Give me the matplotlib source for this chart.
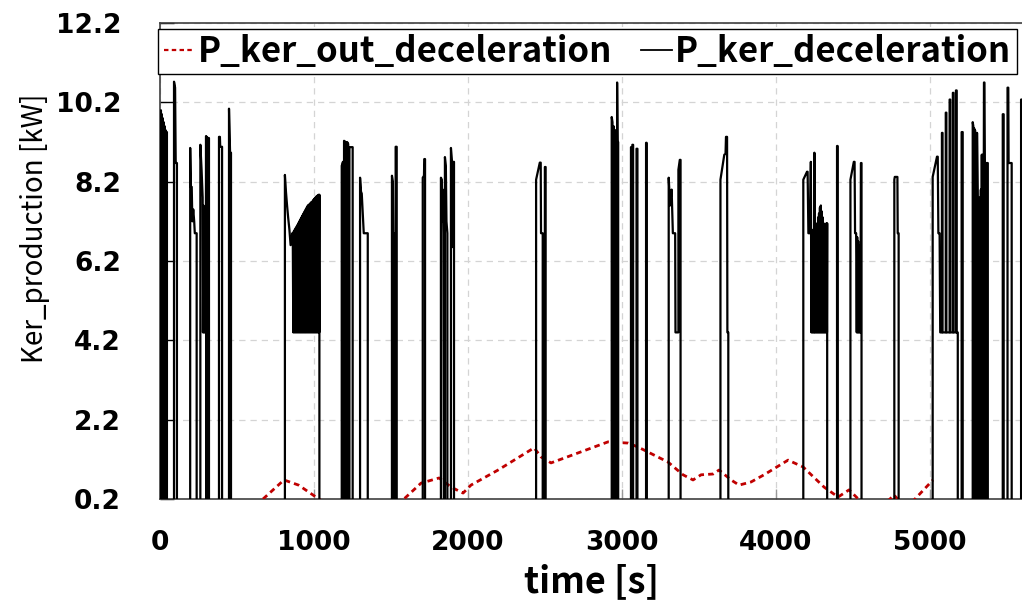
import numpy as np
import matplotlib
matplotlib.use("Agg")
import matplotlib.pyplot as plt
from matplotlib.lines import Line2D

# ---- P_ker_deceleration pulses, (time [s], power [kW]) ----
ker_a = [(6, 0), (6, 10.0), (9, 0), (12, 9.9), (15, 0), (18, 9.8), (21, 0), (24, 9.7),
         (27, 0), (30, 9.6), (33, 0), (36, 9.5), (39, 0), (42, 9.45), (45, 9.45), (45, 0),
         (91, 0), (91, 10.72), (98, 10.57), (102, 8.67), (110, 8.67), (110, 0)]
ker_b = [(196, 0), (196, 9.05), (200, 8.07), (206, 8.07), (210, 7.2), (216, 7.5),
         (222, 7.2), (226, 6.9), (238, 6.9), (238, 0)]
ker_c = [(262, 0), (262, 9.13), (270, 8.5), (277, 7.8), (279, 4.4), (282, 7.6), (285, 4.4),
         (288, 7.5), (291, 4.4), (294, 7.4), (297, 4.4), (299, 9.35), (302, 0), (305, 9.33),
         (308, 0), (311, 9.3), (318, 9.3), (318, 0)]
ker_d = [(383, 0), (383, 9.33), (389, 9.33), (391, 9.08), (403, 9.08), (403, 0),
         (448, 0), (448, 10.04), (455, 8.93), (461, 8.93), (461, 0)]
ker_f_head = [(811, 0), (811, 8.37), (818, 7.94), (825, 7.6), (832, 7.3), (840, 7.0),
              (848, 6.6), (855, 6.8), (859, 6.9)]
ker_f_peak_t = [862, 869, 876, 883, 890, 897, 904, 911, 918, 925, 932, 939, 946,
                953, 960, 967, 974, 981, 988, 995, 1002, 1009, 1016, 1023, 1030]
ker_f_peak_v = [6.9, 6.95, 7.0, 7.05, 7.1, 7.15, 7.2, 7.25, 7.3, 7.35, 7.4, 7.45, 7.5,
                7.55, 7.6, 7.62, 7.65, 7.68, 7.7, 7.74, 7.77, 7.8, 7.83, 7.85, 7.87]
ker_f_tail = [(1035, 7.87), (1035, 0)]
ker_g = [(1180, 0), (1180, 8.6), (1188, 8.7), (1190, 0), (1195, 0), (1195, 9.23),
         (1205, 9.2), (1208, 0), (1215, 0), (1215, 9.2), (1222, 9.15), (1225, 0),
         (1230, 0), (1230, 9.07), (1251, 9.07), (1251, 0),
         (1299, 0), (1299, 8.3), (1305, 7.95), (1310, 7.9), (1318, 7.3), (1323, 6.9),
         (1349, 6.9), (1349, 0)]
ker_i = [(1506, 0), (1506, 8.35), (1512, 8.2), (1514, 6.9), (1518, 6.9), (1518, 0),
         (1530, 0), (1530, 9.08), (1537, 9.08), (1537, 0),
         (1706, 0), (1706, 8.3), (1714, 8.35), (1716, 8.77), (1721, 8.77), (1721, 0)]
ker_k = [(1824, 0), (1824, 8.3), (1830, 8.25), (1833, 7.2), (1836, 8.0), (1840, 6.9),
         (1843, 0), (1850, 0), (1850, 8.82), (1856, 8.6), (1860, 7.2), (1866, 6.9),
         (1866, 0), (1889, 0), (1889, 9.05), (1895, 8.75), (1898, 6.55), (1905, 8.7),
         (1909, 8.7), (1909, 0)]
ker_l = [(2442, 0), (2442, 8.25), (2466, 8.68), (2472, 8.68), (2474, 6.9), (2485, 6.9),
         (2485, 0), (2499, 0), (2499, 8.57), (2504, 8.57), (2504, 0)]
ker_m = [(2933, 0), (2933, 9.83), (2938, 9.7), (2940, 0), (2945, 0), (2945, 9.6),
         (2950, 0), (2955, 0), (2955, 9.5), (2960, 0), (2968, 0), (2968, 10.7),
         (2971, 9.2), (2975, 9.2), (2975, 0),
         (3058, 0), (3058, 9.07), (3064, 9.07), (3064, 0), (3067, 0), (3067, 9.13),
         (3072, 9.13), (3072, 0), (3094, 0), (3094, 9.03), (3100, 9.03), (3100, 0),
         (3156, 0), (3156, 9.18), (3160, 9.18), (3160, 0)]
ker_o = [(3303, 0), (3303, 8.3), (3312, 7.6), (3322, 8.0), (3330, 6.9), (3345, 6.9),
         (3347, 4.4), (3366, 4.4), (3366, 8.5), (3375, 8.75), (3380, 8.75), (3380, 0),
         (3639, 0), (3639, 8.25), (3664, 8.88), (3672, 8.9), (3675, 9.33), (3682, 9.33),
         (3684, 4.4), (3690, 4.4), (3690, 0)]
ker_q_head = [(4177, 0), (4177, 8.25), (4195, 8.4), (4201, 8.45), (4205, 8.45),
              (4210, 6.9), (4220, 6.9)]
ker_q_peak_t = [4226, 4232, 4238, 4244, 4249, 4255, 4261, 4267, 4273, 4279, 4285,
                4291, 4297, 4303, 4309, 4315, 4321, 4327]
ker_q_peak_v = [8.7, 6.9, 6.9, 7.0, 8.93, 6.95, 7.05, 7.15, 7.3, 7.4, 7.55,
                7.6, 7.45, 7.3, 7.15, 7.1, 7.05, 7.15]
ker_q_tail = [(4332, 7.15), (4332, 0), (4396, 0), (4396, 9.1), (4400, 9.1), (4400, 0)]
ker_r = [(4483, 0), (4483, 8.25), (4505, 8.7), (4510, 8.7), (4513, 6.9), (4520, 6.9),
         (4524, 4.4), (4527, 6.8), (4530, 4.4), (4533, 6.7), (4536, 4.4), (4539, 6.6),
         (4542, 4.4), (4545, 6.5), (4548, 4.4), (4551, 8.67), (4555, 8.67), (4555, 0),
         (4768, 0), (4768, 8.25), (4771, 8.32), (4788, 8.32), (4790, 6.9), (4796, 6.9),
         (4796, 0)]
ker_t = [(5017, 0), (5017, 8.32), (5045, 8.83), (5050, 8.83), (5054, 6.9), (5062, 6.9),
         (5066, 4.4), (5077, 4.4), (5077, 9.43), (5081, 9.43), (5081, 4.4), (5102, 4.4),
         (5102, 9.94), (5106, 9.94), (5106, 4.4), (5127, 4.4), (5127, 10.27),
         (5131, 10.27), (5131, 4.4), (5148, 4.4), (5148, 10.44), (5152, 10.44),
         (5152, 4.4), (5168, 4.4), (5168, 10.5), (5173, 10.5), (5173, 4.4), (5180, 4.4),
         (5180, 0), (5205, 0), (5205, 9.45), (5212, 9.45), (5212, 0)]
ker_u = [(5277, 0), (5277, 9.7), (5281, 9.6), (5283, 0), (5286, 9.55), (5289, 0),
         (5292, 9.5), (5295, 0), (5298, 9.43), (5301, 0), (5305, 9.43), (5310, 7.8),
         (5313, 0), (5316, 7.66), (5319, 0), (5322, 7.8), (5325, 0), (5330, 8.0),
         (5333, 0), (5336, 8.88), (5339, 0), (5342, 8.88), (5345, 0), (5350, 10.7),
         (5353, 10.7), (5356, 8.67), (5359, 4.4), (5362, 0), (5365, 8.67), (5375, 8.67),
         (5375, 0)]
ker_v = [(5472, 0), (5472, 9.9), (5478, 9.9), (5478, 0), (5503, 0), (5503, 10.57),
         (5508, 10.57), (5510, 8.67), (5530, 8.67), (5530, 0),
         (5591, 0), (5591, 10.27), (5620, 10.27)]
block_floor = 4.4

# ---- P_ker_out_deceleration ----
out_t = [669, 805, 900, 1050, 1500, 1584, 1695, 1812, 1890, 1968, 2019, 2195, 2429,
         2474, 2539, 2909, 3039, 3104, 3299, 3396, 3461, 3513, 3591, 3630, 3708, 3760,
         3838, 3922, 4078, 4175, 4312, 4403, 4474, 4560, 4700, 4766, 4800, 4890, 5019]
out_p = [0.2, 0.68, 0.55, 0.15, 0.1, 0.2, 0.6, 0.73, 0.5, 0.35, 0.55, 0.93, 1.49,
         1.26, 1.11, 1.64, 1.61, 1.51, 1.13, 0.81, 0.68, 0.81, 0.83, 0.93, 0.68, 0.55,
         0.63, 0.81, 1.18, 1.01, 0.5, 0.25, 0.43, 0.1, 0.05, 0.3, 0.15, 0.15, 0.68]

x_ticks = [0, 1000, 2000, 3000, 4000, 5000]
y_ticks = [0.2, 2.2, 4.2, 6.2, 8.2, 10.2, 12.2]


def dense_block(peak_t, peak_v, floor):
    """Oscillation between the floor and the typed peaks (drawn solid in the source)."""
    pts = []
    for t, v in zip(peak_t, peak_v):
        pts.append((t, v))
        pts.append((t + 3.5, floor))
    return pts


pulses = (ker_a + ker_b + ker_c + ker_d
          + ker_f_head + dense_block(ker_f_peak_t, ker_f_peak_v, block_floor) + ker_f_tail
          + ker_g + ker_i + ker_k + ker_l + ker_m + ker_o
          + ker_q_head + dense_block(ker_q_peak_t, ker_q_peak_v, block_floor) + ker_q_tail
          + ker_r + ker_t + ker_u + ker_v)
ker_t_arr = np.array([p[0] for p in pulses], dtype=float)
ker_p_arr = np.array([p[1] for p in pulses], dtype=float)

label_font = ['Noto Sans CJK KR', 'DejaVu Sans']

fig = plt.figure(figsize=(10.22, 6.06), dpi=100)
ax = fig.add_axes([160 / 1022, 1 - 499 / 606, 862 / 1022, 476 / 606])

ax.plot(out_t, out_p, color='#c00000', linewidth=2.0, linestyle=(0, (2, 1.5)), zorder=3)
ax.plot(ker_t_arr, ker_p_arr, color='black', linewidth=1.6, zorder=4)

ax.set_xlim(0, 5597)
ax.set_ylim(0.2, 12.2)
ax.set_xticks(x_ticks)
ax.set_yticks(y_ticks)
ax.set_yticklabels([f'{v:.1f}' for v in y_ticks])
ax.grid(True, color='#d4d4d4', linestyle=(0, (5, 4)), linewidth=0.9, zorder=0)

for side in ['left', 'bottom', 'top']:
    ax.spines[side].set_color('#404040')
    ax.spines[side].set_linewidth(1.2)
ax.spines['right'].set_visible(False)

ax.tick_params(axis='y', direction='in', length=10, width=1, color='black',
               pad=28, labelsize=19)
ax.tick_params(axis='x', direction='in', length=7, width=1, color='#999999',
               pad=22, labelsize=19)
for lab in ax.get_xticklabels() + ax.get_yticklabels():
    lab.set_fontweight('bold')
    lab.set_family('DejaVu Sans')

ax.set_ylabel('Ker_production [kW]', fontsize=20, fontweight='medium', family=label_font)
ax.yaxis.set_label_coords(-0.128, 0.568)
ax.set_xlabel('time [s]', fontsize=26, fontweight='bold', family=label_font)
ax.xaxis.set_label_coords(0.501, -0.135)

handles = [Line2D([], [], color='#c00000', linewidth=1.6, linestyle=(0, (2, 1.5))),
           Line2D([], [], color='black', linewidth=1.3)]
leg = ax.legend(handles, ['P_ker_out_deceleration', 'P_ker_deceleration'],
                loc='upper center', bbox_to_anchor=(587.5 / 1022, 1 - 29 / 606),
                bbox_transform=fig.transFigure, borderaxespad=0, ncol=2, frameon=True,
                fancybox=False, edgecolor='black', framealpha=1.0, borderpad=0.15,
                handlelength=0.9, handletextpad=0.1, columnspacing=0.8,
                prop={'family': label_font, 'weight': 'bold', 'size': 25})
leg.get_frame().set_linewidth(1.0)
leg.set_zorder(10)

fig.savefig('out.png', dpi=100, facecolor='white')
